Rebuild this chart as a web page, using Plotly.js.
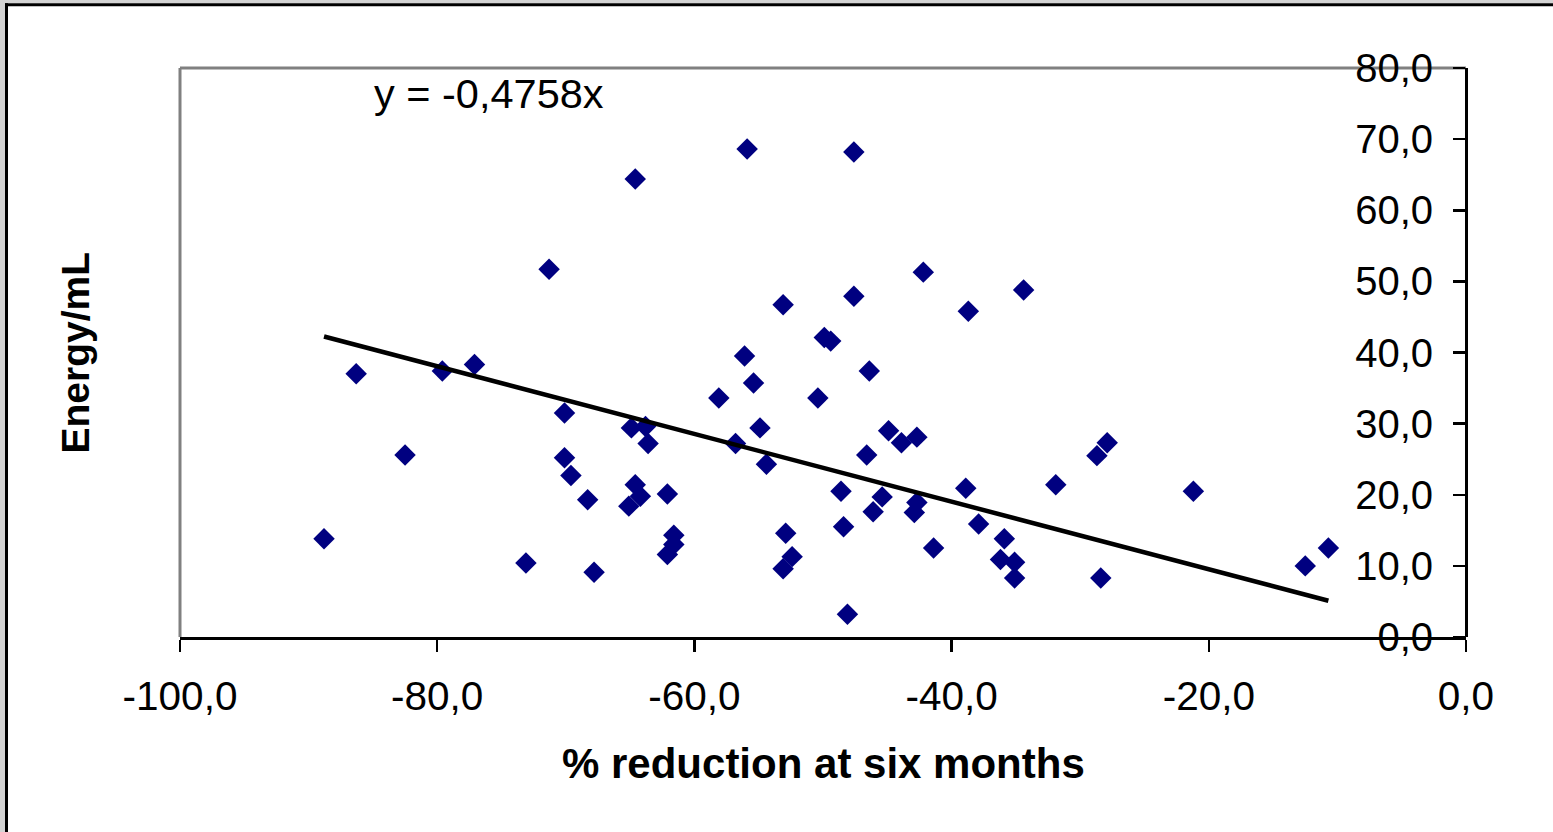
<!DOCTYPE html>
<html>
<head>
<meta charset="utf-8">
<script src="https://cdn.plot.ly/plotly-3.0.1.min.js"></script>
<style>
  html, body { margin: 0; padding: 0; background: #ffffff; }
  #chart { width: 1553px; height: 832px; }
</style>
</head>
<body>
<div id="chart"></div>
<script>
// % reduction at six months (x) and Energy/mL (y) for each patient
const reduction = [
  -71.3, -64.6, -55.9, -47.6, -42.2, -53.1, -47.6, -38.7, -34.4, -49.9,
  -49.4, -56.1, -86.3, -79.6, -77.1, -70.1, -82.5, -70.1, -69.6, -68.3,
  -88.8, -73.1, -67.8, -46.4, -55.4, -58.1, -50.4, -54.9, -64.9, -63.8,
  -63.6, -56.8, -44.9, -43.9, -42.7, -46.6, -54.4, -64.6, -64.2, -65.1,
  -62.1, -48.6, -38.9, -45.4, -42.7, -42.9, -46.1, -37.9, -48.4, -52.9,
  -61.6, -61.6, -62.1, -52.4, -53.1, -41.4, -35.9, -36.2, -35.1, -35.1,
  -48.1, -27.9, -28.7, -31.9, -21.2, -28.4, -12.5, -10.7
];
const energy = [
  51.7, 64.4, 68.6, 68.2, 51.3, 46.7, 47.9, 45.8, 48.8, 42.1,
  41.6, 39.5, 37.0, 37.4, 38.3, 31.5, 25.6, 25.2, 22.7, 19.3,
  13.8, 10.4, 9.1, 37.4, 35.7, 33.6, 33.6, 29.4, 29.4, 29.6,
  27.2, 27.2, 29.0, 27.3, 28.1, 25.6, 24.3, 21.4, 19.8, 18.4,
  20.1, 20.5, 20.9, 19.7, 18.9, 17.5, 17.6, 15.9, 15.5, 14.6,
  14.3, 13.0, 11.6, 11.3, 9.6, 12.5, 13.8, 10.9, 10.5, 8.3,
  3.2, 27.3, 25.5, 21.4, 20.5, 8.3, 10.0, 12.5
];

// Linear trend through the origin: y = slope * x
const slope = -0.4758;
const equationText = 'y = -0,4758x';

const xTickValues = [-100, -80, -60, -40, -20, 0];
const xTickLabels = ['-100,0', '-80,0', '-60,0', '-40,0', '-20,0', '0,0'];
const yTickValues = [0, 10, 20, 30, 40, 50, 60, 70, 80];
const yTickLabels = ['0,0', '10,0', '20,0', '30,0', '40,0', '50,0', '60,0', '70,0', '80,0'];

const xTitle = '% reduction at six months';
const yTitle = 'Energy/mL';

// Page geometry (pixels)
const W = 1553, H = 832;
const M = { l: 180, r: 87, t: 68, b: 195 };
const plotW = W - M.l - M.r, plotH = H - M.t - M.b;
const px = v => (v - M.l) / plotW;          // page x pixel -> paper x
const py = v => (H - M.b - v) / plotH;      // page y pixel -> paper y

const xMin = Math.min(...reduction), xMax = Math.max(...reduction);

const points = {
  type: 'scatter', mode: 'markers',
  x: reduction, y: energy,
  marker: { symbol: 'diamond', size: 16.5, color: '#000080', line: { width: 0 } },
  hoverinfo: 'x+y', showlegend: false, cliponaxis: false
};

const trend = {
  type: 'scatter', mode: 'lines',
  x: [xMin, xMax], y: [slope * xMin, slope * xMax],
  line: { color: '#000000', width: 4.5 },
  hoverinfo: 'skip', showlegend: false
};

const font = 'Liberation Sans, Arial, sans-serif';

const layout = {
  width: W, height: H, autosize: false,
  margin: M,
  paper_bgcolor: '#ffffff', plot_bgcolor: '#ffffff',
  font: { family: font, color: '#000000', size: 40 },
  xaxis: {
    range: [-100, 0], tickmode: 'array', tickvals: xTickValues, ticktext: xTickLabels,
    showgrid: false, zeroline: false, showline: true, linecolor: '#000000', linewidth: 3,
    ticks: 'outside', ticklen: 12, tickwidth: 2.5, tickcolor: '#000000',
    ticklabelstandoff: 9,
    tickfont: { family: font, size: 40.5, color: '#000000' }, automargin: false,
    fixedrange: true
  },
  yaxis: {
    range: [0, 80], tickmode: 'array', tickvals: yTickValues, ticktext: yTickLabels,
    anchor: 'free', position: 1, side: 'left',
    showgrid: false, zeroline: false, showline: true, linecolor: '#000000', linewidth: 3,
    ticks: 'outside', ticklen: 12, tickwidth: 2.5, tickcolor: '#000000',
    ticklabelstandoff: 12,
    tickfont: { family: font, size: 40, color: '#000000' }, automargin: false,
    fixedrange: true
  },
  shapes: [
    // grey plot-area frame on top and left
    { type: 'line', xref: 'paper', yref: 'paper', x0: 0, x1: 1, y0: 1, y1: 1,
      line: { color: '#808080', width: 3 }, layer: 'below' },
    { type: 'line', xref: 'paper', yref: 'paper', x0: 0, x1: 0, y0: 0, y1: 1,
      line: { color: '#808080', width: 3 }, layer: 'below' },
    // window surround and chart-area border
    { type: 'rect', xref: 'paper', yref: 'paper', x0: px(0), x1: px(W), y0: py(0), y1: py(3.3),
      fillcolor: '#d4d4d4', line: { width: 0 } },
    { type: 'rect', xref: 'paper', yref: 'paper', x0: px(0), x1: px(5), y0: py(0), y1: py(H),
      fillcolor: '#d4d4d4', line: { width: 0 } },
    { type: 'rect', xref: 'paper', yref: 'paper', x0: px(5), x1: px(W), y0: py(3.3), y1: py(6.3),
      fillcolor: '#000000', line: { width: 0 } },
    { type: 'rect', xref: 'paper', yref: 'paper', x0: px(5), x1: px(8), y0: py(3.3), y1: py(H),
      fillcolor: '#000000', line: { width: 0 } }
  ],
  annotations: [
    { text: equationText, xref: 'paper', yref: 'paper', x: px(488.5), y: py(93),
      xanchor: 'center', yanchor: 'middle', showarrow: false,
      font: { family: font, size: 41.5, color: '#000000' } },
    { text: xTitle, xref: 'paper', yref: 'paper', x: 0.5, y: py(763),
      xanchor: 'center', yanchor: 'middle', showarrow: false,
      font: { family: font, size: 42, color: '#000000', weight: 'bold' } },
    { text: yTitle, xref: 'paper', yref: 'paper', x: px(75), y: 0.5, textangle: -90,
      xanchor: 'center', yanchor: 'middle', showarrow: false,
      font: { family: font, size: 39, color: '#000000', weight: 'bold' } }
  ]
};

Plotly.newPlot('chart', [points, trend], layout, { displayModeBar: false, staticPlot: true });
</script>
</body>
</html>
